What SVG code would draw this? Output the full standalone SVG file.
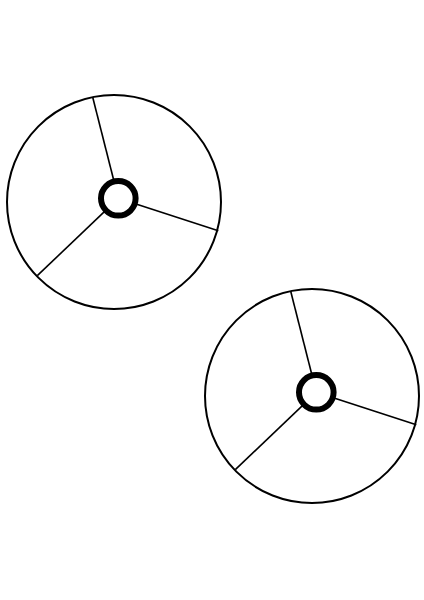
<svg xmlns="http://www.w3.org/2000/svg" xmlns:xlink="http://www.w3.org/1999/xlink" width="424" height="600" viewBox="0 0 424 600">
  <style>
    .rim { fill: #fff; stroke: #000; stroke-width: 2; }
    .spoke { stroke: #000; stroke-width: 1.6; fill: none; }
    .hub { fill: #fff; stroke: #000; stroke-width: 6; }
  </style>
  <defs>
    <g id="wheel">
      <circle class="rim" cx="0" cy="0" r="107"/>
      <line class="spoke" x1="4.3" y1="-3.7" x2="-21.3" y2="-104.7"/>
      <line class="spoke" x1="4.3" y1="-3.7" x2="104.3" y2="28.7"/>
      <line class="spoke" x1="4.3" y1="-3.7" x2="-76.7" y2="73.7"/>
      <circle class="hub" cx="4.3" cy="-3.7" r="17.3"/>
    </g>
  </defs>
  <rect width="424" height="600" fill="#fff"/>
  <g id="wheel1">
    <use xlink:href="#wheel" href="#wheel" x="114" y="202"/>
  </g>
  <g id="wheel2">
    <use xlink:href="#wheel" href="#wheel" x="312" y="396"/>
  </g>
</svg>
